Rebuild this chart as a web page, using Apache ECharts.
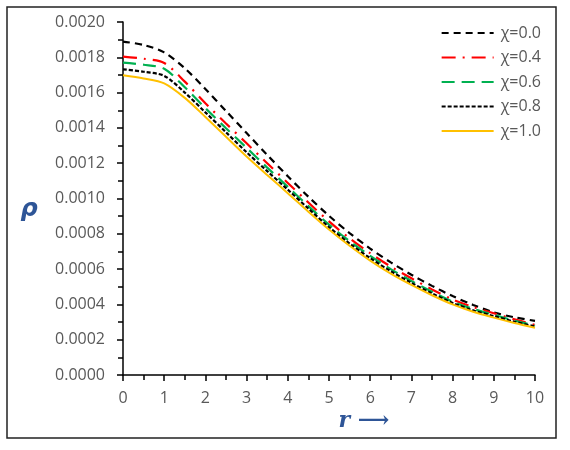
<!DOCTYPE html>
<html>
<head>
<meta charset="utf-8">
<script src="https://cdn.jsdelivr.net/npm/echarts@6/dist/echarts.min.js"></script>
<style>
  html, body { margin: 0; padding: 0; background: #fff; }
  #chart { width: 570px; height: 450px; }
</style>
</head>
<body>
<div id="chart"></div>
<script>
// r values along the x axis (every 0.5)
const rValues = [0, 0.5, 1, 1.5, 2, 2.5, 3, 3.5, 4, 4.5, 5, 5.5, 6, 6.5, 7, 7.5, 8, 8.5, 9, 9.5, 10];

// density curves, one per chi value
const chi00 = [0.001889, 0.00187, 0.001828, 0.001738, 0.00162, 0.001496, 0.001371, 0.001247, 0.001126, 0.00101, 0.000902,
  0.000804, 0.000716, 0.000638, 0.000568, 0.000505, 0.000447, 0.000397, 0.000355, 0.000327, 0.000307];
const chi04 = [0.001804, 0.001792, 0.001768, 0.001662, 0.00154, 0.001425, 0.001313, 0.0012, 0.001088, 0.000977, 0.00087,
  0.000775, 0.00069, 0.000614, 0.000548, 0.000485, 0.000428, 0.000385, 0.00035, 0.000315, 0.000284];
const chi06 = [0.00177, 0.001758, 0.001735, 0.00163, 0.001512, 0.001398, 0.001287, 0.001175, 0.001066, 0.000957, 0.000852,
  0.000758, 0.000675, 0.0006, 0.000533, 0.000472, 0.000416, 0.000374, 0.000341, 0.000308, 0.000279];
const chi08 = [0.001732, 0.001718, 0.001695, 0.0016, 0.001488, 0.001375, 0.001262, 0.001155, 0.00105, 0.000943, 0.000838,
  0.000745, 0.000662, 0.000588, 0.000522, 0.000462, 0.000408, 0.000366, 0.000334, 0.000302, 0.000275];
const chi10 = [0.001698, 0.00168, 0.001652, 0.00157, 0.001462, 0.00135, 0.001238, 0.001133, 0.00103, 0.000925, 0.000824,
  0.000732, 0.000648, 0.000574, 0.00051, 0.000452, 0.0004, 0.000358, 0.000325, 0.000295, 0.000268];

const seriesNames = ["χ=0.0", "χ=0.4", "χ=0.6", "χ=0.8", "χ=1.0"];

const FONT = "Open Sans";
const GREY = "#595959";

function pairs(values) {
  return rValues.map((r, i) => [r, values[i]]);
}

function line(name, values, color, dash, width) {
  return {
    name: name,
    type: "line",
    data: pairs(values),
    smooth: 0.3,
    showSymbol: false,
    symbol: "none",
    lineStyle: { color: color, type: dash, width: width },
    itemStyle: { color: color },
  };
}

const chart = echarts.init(document.getElementById("chart"));

chart.setOption({
  animation: false,
  grid: { left: 123, right: 35, top: 22, bottom: 75 },
  legend: {
    orient: "vertical",
    right: 24,
    top: 20,
    itemWidth: 52,
    itemHeight: 14,
    itemGap: 8.5,
    itemStyle: { opacity: 0 },
    textStyle: { fontFamily: FONT, fontSize: 16, color: GREY, padding: [0, 0, 0, 2] },
    data: seriesNames,
  },
  xAxis: {
    type: "value",
    min: 0,
    max: 10,
    interval: 1,
    axisLine: { lineStyle: { color: "#000", width: 1.5 } },
    axisTick: { inside: false, length: 6, lineStyle: { color: "#000", width: 1.5 } },
    minorTick: { show: true, splitNumber: 2, length: 5, lineStyle: { color: "#000", width: 1.5 } },
    splitLine: { show: false },
    axisLabel: { margin: 15, fontFamily: FONT, fontSize: 16, color: GREY },
  },
  yAxis: {
    type: "value",
    min: 0,
    max: 0.002,
    interval: 0.0002,
    axisLine: { show: true, lineStyle: { color: "#000", width: 1.5 } },
    axisTick: { show: true, inside: false, length: 6, lineStyle: { color: "#000", width: 1.5 } },
    minorTick: { show: true, splitNumber: 2, length: 5, lineStyle: { color: "#000", width: 1.5 } },
    splitLine: { show: false },
    axisLabel: {
      margin: 18,
      fontFamily: FONT,
      fontSize: 16,
      color: GREY,
      formatter: (v) => v.toFixed(4),
    },
  },
  graphic: [
    {
      type: "rect",
      shape: { x: 7, y: 7, width: 549, height: 431 },
      style: { fill: "none", stroke: "#222", lineWidth: 1.5 },
      silent: true,
    },
    {
      type: "text",
      x: 29,
      y: 210,
      style: {
        text: "ρ",
        font: "italic bold 24px 'DejaVu Sans'",
        fill: "#2E5597",
        align: "center",
        verticalAlign: "middle",
      },
    },
    {
      type: "text",
      x: 364,
      y: 421,
      style: {
        text: "r ⟶",
        font: "italic bold 22px 'DejaVu Serif'",
        fill: "#2E5597",
        align: "center",
        verticalAlign: "middle",
      },
    },
  ],
  series: [
    line(seriesNames[0], chi00, "#000000", [7, 5], 2.2),
    line(seriesNames[1], chi04, "#FF0000", [14, 7, 2, 7], 2.2),
    line(seriesNames[2], chi06, "#00B050", [13, 7], 2.2),
    line(seriesNames[3], chi08, "#000000", [4, 2], 2.2),
    line(seriesNames[4], chi10, "#FFC000", "solid", 2),
  ],
});
</script>
</body>
</html>
